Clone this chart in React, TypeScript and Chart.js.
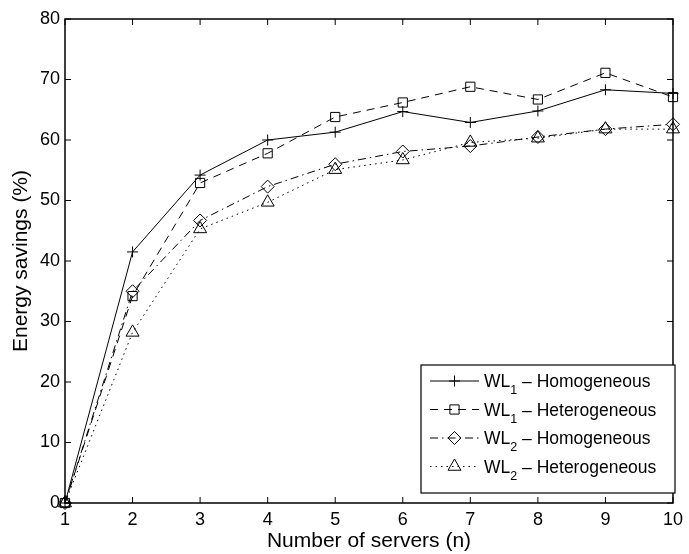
import React, { useEffect, useRef } from 'react';
import { Chart, registerables } from 'chart.js';
import { drawPoint } from 'chart.js/helpers';

Chart.register(...registerables);

const servers = [1, 2, 3, 4, 5, 6, 7, 8, 9, 10];
const wl1Homogeneous = [0, 41.5, 54.2, 60.0, 61.3, 64.7, 62.9, 64.8, 68.3, 67.7];
const wl1Heterogeneous = [0, 34.2, 52.9, 57.8, 63.8, 66.2, 68.8, 66.7, 71.1, 67.1];
const wl2Homogeneous = [0, 35.0, 46.7, 52.3, 56.0, 58.1, 59.0, 60.5, 61.8, 62.6];
const wl2Heterogeneous = [0, 28.2, 45.3, 49.7, 55.1, 56.7, 59.6, 60.3, 61.8, 61.8];
const yTicks = [0, 10, 20, 30, 40, 50, 60, 70, 80];
const xTicks = servers;

const legendLabels = [
  { main: 'WL', sub: '1', rest: ' \u2013 Homogeneous' },
  { main: 'WL', sub: '1', rest: ' \u2013 Heterogeneous' },
  { main: 'WL', sub: '2', rest: ' \u2013 Homogeneous' },
  { main: 'WL', sub: '2', rest: ' \u2013 Heterogeneous' },
];

const FONT = '"Liberation Sans", Arial, Helvetica, sans-serif';

const framePlugin = {
  id: 'matlabFrame',
  afterDatasetsDraw(chart: any) {
    const { ctx, chartArea } = chart;
    const { left, right, top, bottom } = chartArea;
    const xs = chart.scales.x;
    const ys = chart.scales.y;
    ctx.save();
    ctx.strokeStyle = '#000';
    ctx.lineWidth = 1.5;
    ctx.setLineDash([]);
    ctx.strokeRect(left, top, right - left, bottom - top);
    ctx.lineWidth = 1;
    const tl = 6;
    ctx.beginPath();
    xTicks.forEach((v) => {
      const px = xs.getPixelForValue(v);
      ctx.moveTo(px, bottom);
      ctx.lineTo(px, bottom - tl);
      ctx.moveTo(px, top);
      ctx.lineTo(px, top + tl);
    });
    yTicks.forEach((v) => {
      const py = ys.getPixelForValue(v);
      ctx.moveTo(left, py);
      ctx.lineTo(left + tl, py);
      ctx.moveTo(right, py);
      ctx.lineTo(right - tl, py);
    });
    ctx.stroke();
    ctx.restore();
  },
};

const legendPlugin = {
  id: 'matlabLegend',
  afterDraw(chart: any) {
    const { ctx } = chart;
    const boxL = 421;
    const boxR = 675;
    const boxT = 365;
    const boxB = 493;
    const rowGap = 28.5;
    const firstBase = 387;
    ctx.save();
    ctx.fillStyle = '#fff';
    ctx.fillRect(boxL, boxT, boxR - boxL, boxB - boxT);
    ctx.strokeStyle = '#000';
    ctx.lineWidth = 1.2;
    ctx.strokeRect(boxL, boxT, boxR - boxL, boxB - boxT);
    chart.data.datasets.forEach((ds: any, i: number) => {
      const base = firstBase + i * rowGap;
      const cy = base - 6;
      ctx.save();
      ctx.strokeStyle = '#000';
      ctx.lineWidth = 1;
      ctx.setLineDash(ds.borderDash || []);
      ctx.beginPath();
      ctx.moveTo(430, cy);
      ctx.lineTo(479, cy);
      ctx.stroke();
      ctx.setLineDash([]);
      ctx.fillStyle = 'rgba(0,0,0,0)';
      drawPoint(ctx, { pointStyle: ds.pointStyle, radius: ds.pointRadius, rotation: 0, borderWidth: 1 } as any, 454.5, cy);
      ctx.restore();
      const lab = legendLabels[i];
      ctx.fillStyle = '#000';
      ctx.textBaseline = 'alphabetic';
      ctx.textAlign = 'left';
      ctx.font = `17.5px ${FONT}`;
      let x = 484;
      ctx.fillText(lab.main, x, base);
      x += ctx.measureText(lab.main).width;
      ctx.font = `12.5px ${FONT}`;
      ctx.fillText(lab.sub, x, base + 7);
      x += ctx.measureText(lab.sub).width;
      ctx.font = `17.5px ${FONT}`;
      ctx.fillText(lab.rest, x, base);
    });
    ctx.restore();
  },
};

function toPoints(values: number[]) {
  return servers.map((s, i) => ({ x: s, y: values[i] }));
}

export default function App() {
  const canvasRef = useRef<HTMLCanvasElement | null>(null);

  useEffect(() => {
    const canvas = canvasRef.current;
    if (!canvas) return;
    const common = {
      borderColor: '#000',
      borderWidth: 1,
      pointBorderColor: '#000',
      pointBackgroundColor: 'rgba(0,0,0,0)',
      pointBorderWidth: 1,
      pointHoverRadius: 0,
      fill: false,
      tension: 0,
      clip: false,
    };
    const chart = new Chart(canvas, {
      type: 'line',
      data: {
        datasets: [
          { ...common, label: 'WL1 - Homogeneous', data: toPoints(wl1Homogeneous), borderDash: [], pointStyle: 'cross', pointRadius: 5.5 },
          { ...common, label: 'WL1 - Heterogeneous', data: toPoints(wl1Heterogeneous), borderDash: [8, 6], pointStyle: 'rect', pointRadius: 6.5 },
          { ...common, label: 'WL2 - Homogeneous', data: toPoints(wl2Homogeneous), borderDash: [8, 4, 1.5, 4], pointStyle: 'rectRot', pointRadius: 6.5 },
          { ...common, label: 'WL2 - Heterogeneous', data: toPoints(wl2Heterogeneous), borderDash: [1.5, 4], pointStyle: 'triangle', pointRadius: 7.5 },
        ] as any,
      },
      options: {
        responsive: false,
        animation: false,
        events: [],
        layout: { padding: { top: 19, right: 11, left: 0, bottom: 0 } },
        plugins: {
          legend: { display: false },
          tooltip: { enabled: false },
          title: { display: false },
        },
        scales: {
          x: {
            type: 'linear',
            min: 1,
            max: 10,
            afterBuildTicks: (scale: any) => {
              scale.ticks = xTicks.map((v) => ({ value: v }));
            },
            afterFit: (scale: any) => {
              scale.height = 51;
            },
            grid: { display: false, drawTicks: false },
            border: { display: false },
            ticks: {
              color: '#000',
              font: { family: FONT, size: 18 },
              padding: 6,
              maxRotation: 0,
              autoSkip: false,
            },
            title: {
              display: true,
              text: 'Number of servers (n)',
              color: '#000',
              font: { family: FONT, size: 21 },
              padding: { top: 0, bottom: 0 },
            },
          },
          y: {
            type: 'linear',
            min: 0,
            max: 80,
            afterBuildTicks: (scale: any) => {
              scale.ticks = yTicks.map((v) => ({ value: v }));
            },
            afterFit: (scale: any) => {
              scale.width = 65;
            },
            grid: { display: false, drawTicks: false },
            border: { display: false },
            ticks: {
              color: '#000',
              font: { family: FONT, size: 18 },
              padding: 5,
              autoSkip: false,
            },
            title: {
              display: true,
              text: 'Energy savings (%)',
              color: '#000',
              font: { family: FONT, size: 21 },
              padding: { top: 9, bottom: 0 },
            },
          },
        },
      } as any,
      plugins: [framePlugin, legendPlugin],
    });
    return () => chart.destroy();
  }, []);

  return (
    <div style={{ position: 'fixed', left: 0, top: 0, width: 689, height: 554, background: '#fff' }}>
      <canvas ref={canvasRef} width={689} height={554} style={{ display: 'block', width: 689, height: 554 }} />
    </div>
  );
}
